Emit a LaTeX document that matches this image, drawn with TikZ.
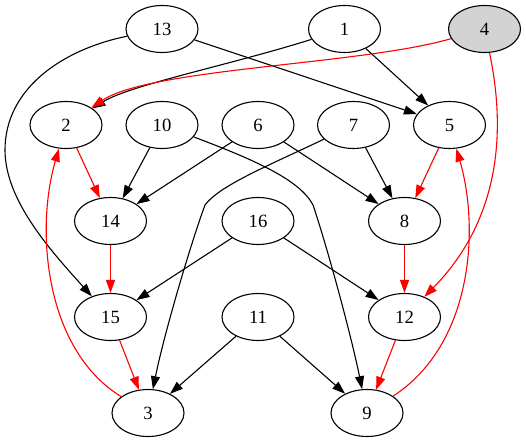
\documentclass[tikz,border=0pt]{standalone}
\usepackage{fontspec}
\setmainfont{Liberation Serif}
\usetikzlibrary{shapes.geometric,arrows.meta}
\definecolor{gvgray}{HTML}{D3D3D3}
\definecolor{gvred}{HTML}{FF0000}
\begin{document}
\begin{tikzpicture}[x=1pt,y=-1pt,
  gn/.style={ellipse,draw=black,line width=1.1pt,minimum width=72pt,minimum height=47pt,inner sep=0pt,font=\fontsize{18.67}{22}\selectfont},
  be/.style={draw=black,line width=1.1pt,-{Triangle[length=13pt,width=9pt]}},
  re/.style={draw=gvred,line width=1.1pt,-{Triangle[length=13pt,width=9pt]}}]
\useasboundingbox (0,0) rectangle (526,443);
\node[gn] (n13) at (162,29) {13};
\node[gn] (n1) at (344.5,29) {1};
\node[gn,fill=gvgray] (n4) at (484.5,29) {4};
\node[gn] (n2) at (66,125) {2};
\node[gn] (n10) at (162,125) {10};
\node[gn] (n6) at (258,125) {6};
\node[gn] (n7) at (353.5,125) {7};
\node[gn] (n5) at (449.5,125) {5};
\node[gn] (n14) at (110.5,221) {14};
\node[gn] (n16) at (258,221) {16};
\node[gn] (n8) at (404.5,221) {8};
\node[gn] (n15) at (110.5,317) {15};
\node[gn] (n11) at (258,317) {11};
\node[gn] (n12) at (404.5,317) {12};
\node[gn] (n3) at (148,413) {3};
\node[gn] (n9) at (367,413) {9};
% black edges
\draw[be] (n13) -- (n5);
\draw[be] (n13) .. controls (60,50) and (5,90) .. (5,150) .. controls (5,200) and (50,250) .. (n15);
\draw[be] (n1) .. controls (230,65) and (130,85) .. (n2);
\draw[be] (n1) -- (n5);
\draw[be] (n10) -- (n14);
\draw[be] (n10) .. controls (255,160) and (300,180) .. (313,205) .. controls (325,240) and (350,330) .. (n9);
\draw[be] (n6) -- (n14);
\draw[be] (n6) -- (n8);
\draw[be] (n7) -- (n8);
\draw[be] (n7) .. controls (270,165) and (220,185) .. (205,205) .. controls (192,240) and (165,330) .. (n3);
\draw[be] (n16) -- (n15);
\draw[be] (n16) -- (n12);
\draw[be] (n11) -- (n3);
\draw[be] (n11) -- (n9);
% red edges
\draw[re] (n4) .. controls (360,65) and (150,68) .. (n2);
\draw[re] (n4) .. controls (510,150) and (490,230) .. (n12);
\draw[re] (n2) -- (n14);
\draw[re] (n5) -- (n8);
\draw[re] (n14) -- (n15);
\draw[re] (n8) -- (n12);
\draw[re] (n15) -- (n3);
\draw[re] (n12) -- (n9);
\draw[re] (n3) .. controls (45,350) and (35,230) .. (n2);
\draw[re] (n9) .. controls (472,345) and (480,230) .. (n5);
\end{tikzpicture}
\end{document}
